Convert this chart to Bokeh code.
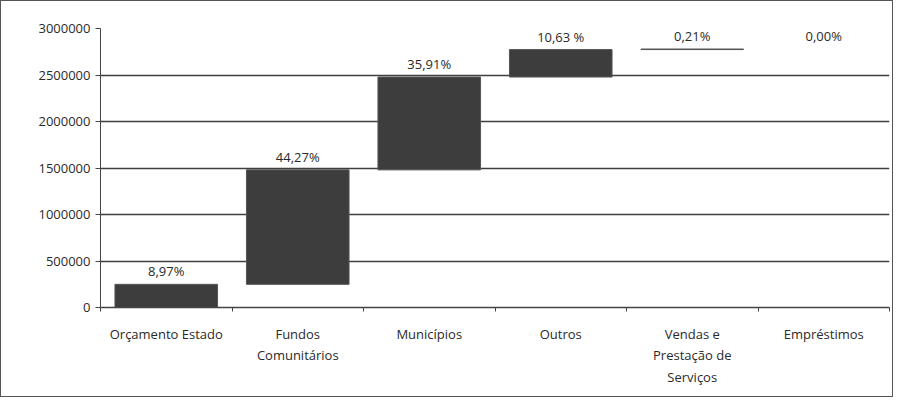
from bokeh.plotting import figure
from bokeh.models import ColumnDataSource, FixedTicker, BasicTickFormatter, Range1d
from bokeh.embed import file_html
from bokeh.resources import INLINE
from bokeh.core.properties import value

categories = ["Orçamento Estado", "Fundos\nComunitários", "Municípios", "Outros",
              "Vendas e\nPrestação de\nServiços", "Empréstimos"]
amounts = [249000, 1231000, 998000, 295500, 5800, 0]
pct_labels = ["8,97%", "44,27%", "35,91%", "10,63 %", "0,21%", "0,00%"]
y_ticks = [0, 500000, 1000000, 1500000, 2000000, 2500000, 3000000]

# waterfall bases from cumulative sums
bottoms, tops = [], []
run = 0
for a in amounts:
    bottoms.append(run)
    run += a
    tops.append(run)
xs = [i + 0.5 for i in range(len(categories))]
edge_alpha = [1.0 if a > 0 else 0.0 for a in amounts]

src = ColumnDataSource(dict(x=xs, bottom=bottoms, top=tops, lab=pct_labels, la=edge_alpha))

FONT = "Open Sans"
TXT = "#2a2a2a"
FS = "13px"

p = figure(width=893, height=397, output_backend="svg", toolbar_location=None,
           x_range=Range1d(0, len(categories)), y_range=Range1d(0, 3000000),
           min_border_left=99, min_border_right=5, min_border_top=27, min_border_bottom=91)
p.styles = {"border": "1px solid #555555"}
p.outline_line_color = None
p.background_fill_color = "white"

p.vbar(x="x", bottom="bottom", top="top", width=0.78, source=src,
       fill_color="#3d3d3d", line_color="#555555", line_alpha="la", line_width=1)

p.text(x="x", y="top", text="lab", source=src, y_offset=-4,
       text_align="center", text_baseline="bottom",
       text_font=value(FONT), text_font_size=FS, text_color=TXT)

# axes
p.xgrid.visible = False
p.ygrid.ticker = FixedTicker(ticks=y_ticks)
p.ygrid.grid_line_color = "#3f3f3f"
p.ygrid.grid_line_width = 1.5

p.yaxis.ticker = FixedTicker(ticks=y_ticks)
p.yaxis.formatter = BasicTickFormatter(use_scientific=False)
p.yaxis.major_label_text_font = FONT
p.yaxis.major_label_text_font_size = FS
p.yaxis.major_label_text_color = TXT
p.yaxis.axis_line_color = "#444444"
p.yaxis.major_tick_out = 5
p.yaxis.major_tick_in = 0
p.yaxis.minor_tick_line_color = None
p.yaxis.major_tick_line_color = "#444444"

p.xaxis.ticker = FixedTicker(ticks=xs, minor_ticks=list(range(len(categories) + 1)))
p.xaxis.major_label_overrides = {x: c for x, c in zip(xs, categories)}
p.xaxis.major_tick_out = 0
p.xaxis.major_tick_in = 0
p.xaxis.minor_tick_out = 4
p.xaxis.minor_tick_in = 0
p.xaxis.minor_tick_line_color = "#444444"
p.xaxis.axis_line_color = "#444444"
p.xaxis.axis_line_width = 1.5
p.xaxis.major_label_text_font = FONT
p.xaxis.major_label_text_font_size = FS
p.xaxis.major_label_text_color = TXT
p.xaxis.major_label_standoff = 13

open("out.html", "w").write(file_html(p, INLINE))
